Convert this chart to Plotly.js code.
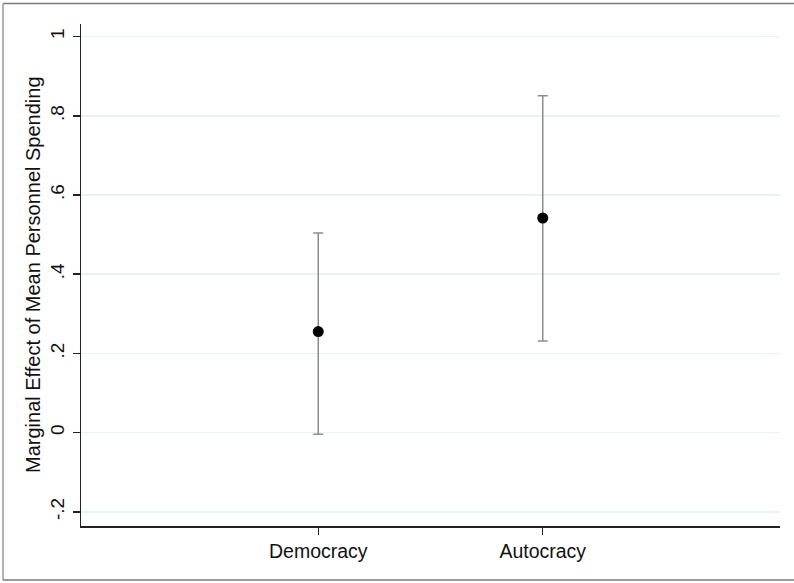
<!DOCTYPE html>
<html>
<head>
<meta charset="utf-8">
<script src="https://cdn.plot.ly/plotly-3.0.1.min.js"></script>
<style>html,body{margin:0;padding:0;background:#fff;}#chart{width:794px;height:583px;}</style>
</head>
<body>
<div id="chart"></div>
<script>
const categories = ["Democracy", "Autocracy"];
const categoryPositions = [1, 2];
const estimates = [0.255, 0.542];
const upperBounds = [0.504, 0.851];
const lowerBounds = [-0.004, 0.231];
const yTickValues = [-0.2, 0, 0.2, 0.4, 0.6, 0.8, 1];
const yTickLabels = ["-.2", "0", ".2", ".4", ".6", ".8", "1"];

const errPlus = estimates.map((v, i) => upperBounds[i] - v);
const errMinus = estimates.map((v, i) => v - lowerBounds[i]);

const trace = {
  type: 'scatter',
  mode: 'markers',
  x: categoryPositions,
  y: estimates,
  marker: {color: '#000', size: 11},
  error_y: {
    type: 'data', symmetric: false,
    array: errPlus, arrayminus: errMinus,
    color: '#8c8c8c', thickness: 1.5, width: 5
  },
  showlegend: false,
  hoverinfo: 'x+y'
};

const fam = 'Liberation Sans, Arial, sans-serif';
const xFont = {family: fam, size: 19.5, color: '#111'};
const yFont = {family: fam, size: 19, color: '#111'};

const layout = {
  width: 794, height: 583,
  margin: {l: 81, r: 14, t: 24, b: 57, pad: 0},
  paper_bgcolor: '#fff', plot_bgcolor: '#fff',
  font: xFont,
  showlegend: false,
  xaxis: {
    range: [-0.057, 3.057],
    tickvals: categoryPositions,
    ticktext: categories,
    ticks: 'outside', ticklen: 7, tickwidth: 1.5, tickcolor: '#222',
    showline: true, linecolor: '#222', linewidth: 1.5,
    showgrid: false, zeroline: false,
    tickfont: xFont
  },
  yaxis: {
    range: [-0.236, 1.032],
    tickvals: yTickValues,
    ticktext: yTickLabels,
    tickangle: -90,
    ticks: 'outside', ticklen: 7, tickwidth: 1.5, tickcolor: '#222',
    showline: true, linecolor: '#222', linewidth: 1.5,
    showgrid: true, gridcolor: '#e9f1f2', gridwidth: 1.5,
    zeroline: false,
    ticklabelstandoff: 1,
    tickfont: yFont
  },
  annotations: [{
    text: 'Marginal Effect of Mean Personnel Spending',
    xref: 'paper', yref: 'paper',
    x: (33 - 81) / 699, y: 0.5,
    xanchor: 'center', yanchor: 'middle',
    textangle: -90, showarrow: false,
    font: {family: fam, size: 20, color: '#111'}
  }],
  shapes: [
    {type: 'line', xref: 'paper', yref: 'paper', x0: (3 - 81) / 699, x1: (795 - 81) / 699, y0: 1 + (24 - 3.5) / 502, y1: 1 + (24 - 3.5) / 502, line: {color: '#7a7a7a', width: 1.5}},
    {type: 'line', xref: 'paper', yref: 'paper', x0: (3 - 81) / 699, x1: (3 - 81) / 699, y0: 1 + (24 - 3.5) / 502, y1: (526 - 580) / 502, line: {color: '#9a9a9a', width: 1.5}},
    {type: 'line', xref: 'paper', yref: 'paper', x0: (3 - 81) / 699, x1: (795 - 81) / 699, y0: (526 - 580) / 502, y1: (526 - 580) / 502, line: {color: '#7a7a7a', width: 1.5}}
  ]
};

Plotly.newPlot('chart', [trace], layout, {displayModeBar: false, staticPlot: true});
</script>
</body>
</html>
